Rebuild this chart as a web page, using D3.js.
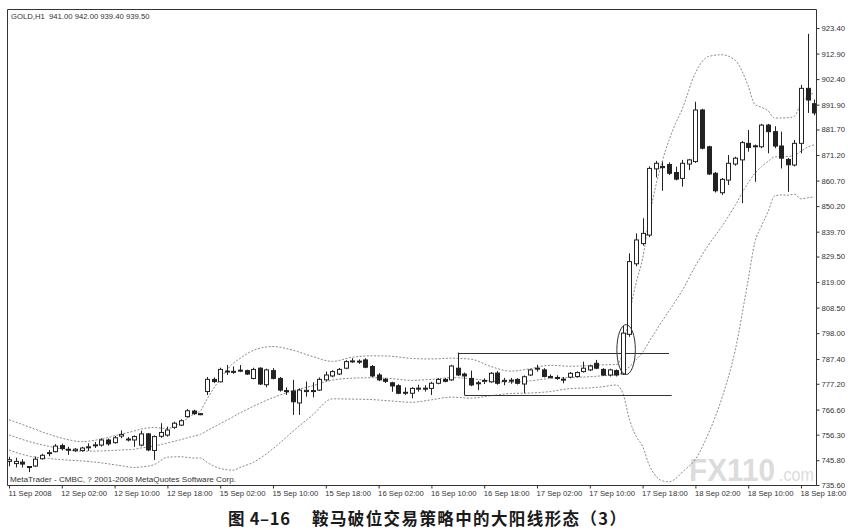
<!DOCTYPE html>
<html><head><meta charset="utf-8">
<script src="https://cdn.jsdelivr.net/npm/d3@7"></script>
<style>
html,body{margin:0;padding:0;background:#fff;}
svg{display:block;}
</style></head>
<body>
<svg id="c" width="866" height="530"></svg>
<script>
// ---- candle data (GOLD H1) ----
const opens  = [745.3,744.4,745.0,743.0,743.4,746.4,748.6,749.3,751.8,750.3,749.7,749.8,751.0,751.8,752.0,754.1,753.0,755.7,754.5,754.1,
752.0,756.6,749.8,755.6,756.1,759.3,760.2,763.7,766.0,764.9,774.0,779.0,778.0,782.0,782.3,782.4,782.6,779.4,783.6,776.8,
782.6,779.4,774.4,774.2,769.3,774.0,774.4,774.6,778.8,780.4,781.2,783.6,786.3,786.5,787.0,784.3,780.8,779.0,777.6,776.4,
773.5,773.3,775.1,775.4,775.3,777.4,779.0,778.8,783.6,781.2,779.4,777.6,778.3,778.0,781.6,778.3,778.7,779.0,777.1,780.8,
783.3,782.9,780.2,779.8,779.1,779.9,780.2,782.2,782.9,785.6,783.1,780.8,782.6,781.2,797.5,826.5,834.8,838.3,865.5,866.5,
867.3,864.0,861.6,867.5,868.5,889.7,874.6,863.7,855.7,860.9,867.5,869.2,876.0,874.6,874.6,883.5,880.8,874.9,869.4,867.1,
876.0,898.6,892.3];
const highs  = [747.2,746.8,746.2,743.4,747.3,748.4,750.0,752.4,752.6,751.3,750.8,751.3,752.7,753.3,754.8,754.7,755.8,758.0,755.3,756.0,
757.9,757.0,756.0,761.0,759.6,761.6,762.6,766.8,766.5,765.2,780.0,779.8,783.8,784.9,784.3,784.9,783.0,783.8,784.0,783.4,
783.6,780.0,775.7,778.8,775.3,778.1,777.8,779.8,782.2,782.8,783.7,786.9,787.7,787.2,787.7,784.9,781.6,779.6,778.0,777.0,
775.7,775.8,776.8,776.6,778.0,779.5,779.5,785.0,790.0,781.8,782.6,778.4,779.4,782.0,782.4,779.6,779.6,779.5,780.6,783.3,
785.0,783.6,781.0,780.7,780.0,782.0,782.3,786.3,785.0,787.0,783.6,783.4,783.1,801.0,830.8,839.0,845.2,866.5,868.8,868.5,
868.2,866.4,869.2,869.6,893.1,890.2,875.0,864.2,861.8,871.2,870.5,877.0,881.5,875.5,884.0,884.0,883.0,880.8,870.0,877.4,
900.0,921.0,894.0];
const lows   = [743.3,742.8,742.8,740.9,743.0,746.0,747.4,749.0,749.8,748.0,749.2,749.3,749.6,750.8,751.4,751.8,752.6,754.8,753.5,751.3,
751.5,749.5,745.9,755.0,755.5,758.7,759.8,763.3,764.4,764.3,772.6,777.5,777.8,780.8,781.3,782.0,780.8,779.0,776.7,775.8,
779.0,774.0,772.6,764.4,764.4,771.9,771.6,774.2,778.4,779.9,780.8,783.2,785.8,785.4,783.6,780.0,778.3,777.5,773.9,772.9,
772.6,771.2,774.0,774.0,772.6,777.0,777.8,778.4,780.4,772.6,776.2,774.6,777.1,777.6,776.8,776.6,777.2,776.9,773.3,780.4,
782.2,779.8,779.4,778.8,777.4,779.4,779.7,781.8,782.4,783.2,780.4,780.2,780.2,780.8,796.5,825.5,834.0,837.5,862.0,856.5,
863.0,860.8,858.2,865.0,868.0,873.5,863.0,855.8,854.8,858.9,866.8,851.4,872.6,860.2,874.0,871.9,874.0,865.7,856.1,866.5,
871.9,888.5,887.5];
const closes = [746.0,745.3,744.2,743.2,746.2,747.8,748.9,751.6,750.6,749.9,750.3,750.8,751.3,752.1,754.1,752.5,755.0,756.4,754.2,755.5,
756.6,750.0,755.5,757.2,758.2,761.0,762.0,766.1,764.9,764.7,779.0,778.1,783.1,782.4,782.0,782.8,781.2,783.1,777.1,782.9,
779.4,774.6,774.0,769.8,774.6,774.5,774.0,779.0,780.8,782.2,783.1,786.3,786.6,786.2,784.0,780.4,778.8,778.2,776.3,773.3,
773.7,775.3,775.4,775.2,777.4,779.0,778.2,784.5,780.8,780.4,776.7,777.3,778.6,781.5,777.4,778.6,778.5,777.4,780.1,782.9,
783.6,780.2,780.0,779.5,778.8,781.5,781.8,783.6,784.5,783.6,780.8,782.9,780.8,798.0,827.4,836.3,839.0,865.7,867.8,866.0,
863.7,861.3,867.8,869.2,889.7,874.0,863.4,856.5,861.2,867.8,869.9,876.3,874.3,875.0,883.5,880.8,874.9,869.9,867.2,876.0,
898.6,893.8,888.5];

// ---- Bollinger band lines, read at these bar positions ----
const bandBars   = [0,3,6,9,11,14,17,19,20,22,24,26,28,29,30,32,34,35,37,40,43,46,49,52,55,58,61,64,67,70,73,76,79,82,85,88,90,92,
93,94,95,96,97,98,99,100,101,102,104,106,108,110,112,113,114,115,116,117,118,119,120,121,122];
const upperBand  = [762.4,759.5,756.5,754.2,753.4,754.5,756.5,757.8,758.6,759.2,758.8,761.2,764.7,766.1,770.9,779.2,785.7,787.6,790.9,792.5,791.0,788.4,786.4,788.1,788.7,788.5,787.6,787.4,787.7,787.3,784.3,782.4,783.4,784.8,784.4,784.7,785.0,785.1,
790.0,805.8,818.5,828.7,845.4,858.5,868.9,877.3,884.2,890.1,905.0,911.7,912.4,910.2,899.6,892.0,890.8,889.4,886.4,886.4,886.5,887.1,892.4,895.2,896.8];
const middleBand = [756.2,753.5,751.5,750.0,749.5,749.6,750.0,750.3,750.8,751.6,752.9,754.2,755.7,756.4,757.9,760.8,763.7,765.2,767.9,771.5,774.3,776.4,778.7,779.5,779.7,779.3,778.6,779.0,779.7,779.3,778.3,777.8,778.4,779.4,779.8,780.1,780.5,780.9,
781.7,784.2,787.1,790.1,794.6,798.9,803.1,807.1,811.2,815.5,825.6,834.3,841.8,850.4,859.8,863.6,866.4,868.6,870.4,870.6,870.6,871.1,872.8,874.4,875.4];
const lowerBand  = [750.0,747.5,746.5,745.8,745.5,744.7,743.5,742.8,743.0,744.0,747.0,747.2,746.7,746.7,744.9,742.4,741.7,742.8,744.9,750.5,757.6,764.4,771.0,770.9,770.7,770.1,769.6,770.6,771.7,771.3,772.3,773.2,773.4,774.0,775.2,775.5,776.0,776.7,
773.4,762.6,755.7,751.5,743.8,739.3,737.3,736.9,738.2,740.9,746.2,756.9,771.2,790.6,820.0,835.2,842.0,847.8,854.4,854.8,854.7,855.1,853.2,853.6,854.0];

// ---- axes ----
const xTickBars   = [0,8,16,24,32,40,48,56,64,72,80,88,96,104,112,120];
const xTickLabels = ["11 Sep 2008","12 Sep 02:00","12 Sep 10:00","12 Sep 18:00","15 Sep 02:00","15 Sep 10:00","15 Sep 18:00","16 Sep 02:00",
"16 Sep 10:00","16 Sep 18:00","17 Sep 02:00","17 Sep 10:00","17 Sep 18:00","18 Sep 02:00","18 Sep 10:00","18 Sep 18:00"];
const yTickValues = [923.40,912.90,902.40,891.90,881.70,871.20,860.70,850.20,839.70,829.50,819.00,808.50,798.00,787.40,777.20,766.60,756.30,745.80,735.60];

// ---- annotations ----
const resistance = {price: 790.0, fromBar: 68, toBar: 100};
const support    = {price: 772.6, fromBar: 69, toBar: 100.4};
const breakoutCircle = {bar: 93.5, low: 781.0, high: 801.5, halfBars: 1.4};

const headerText = "GOLD,H1  941.00 942.00 939.40 939.50";
const footerText = "MetaTrader - CMBC, ? 2001-2008 MetaQuotes Software Corp.";
const titleNum = "图 4–16";
const titleText = "鞍马破位交易策略中的大阳线形态（3）";

// ---- drawing ----
const W = 866, H = 530;
const plot = {left: 7, top: 9, right: 816, bottom: 485};
const svg = d3.select("#c");
const x = d3.scaleLinear().domain([0, 120]).range([9, 801]);
const y = d3.scaleLinear().domain([735.6, 923.4]).range([485, 28]);
const FONT = "'Liberation Sans', Arial, sans-serif";
const INK = "#222";

svg.append("rect").attr("width", W).attr("height", H).attr("fill", "#fff");

svg.append("defs").append("clipPath").attr("id", "clip")
  .append("rect").attr("x", plot.left).attr("y", plot.top)
  .attr("width", plot.right - plot.left).attr("height", plot.bottom - plot.top);

// watermark (kept inside the plot, left of the price axis)
svg.append("text").attr("x", 689).attr("y", 481)
  .attr("font-family", FONT).attr("font-size", 31).attr("font-weight", "bold").attr("fill", "#dcdcdc")
  .attr("textLength", 86).attr("lengthAdjust", "spacingAndGlyphs").text("FX110");
svg.append("text").attr("x", 779).attr("y", 481)
  .attr("font-family", FONT).attr("font-size", 19).attr("fill", "#dcdcdc")
  .attr("textLength", 35).attr("lengthAdjust", "spacingAndGlyphs").text(".com");

const g = svg.append("g").attr("clip-path", "url(#clip)");

// bands
const bandLine = (vals) => d3.line()
  .x((d, i) => x(bandBars[i])).y((d) => y(d))
  .curve(d3.curveMonotoneX)(vals);
[upperBand, middleBand, lowerBand].forEach(vals => {
  g.append("path").attr("d", bandLine(vals))
    .attr("fill", "none").attr("stroke", "#8a8a8a")
    .attr("stroke-width", 1).attr("stroke-dasharray", "2,1.6");
});

// level lines
[resistance, support].forEach(l => {
  g.append("line")
    .attr("x1", x(l.fromBar)).attr("x2", x(l.toBar))
    .attr("y1", Math.round(y(l.price)) + 0.5).attr("y2", Math.round(y(l.price)) + 0.5)
    .attr("stroke", "#333").attr("stroke-width", 1.1);
});

// candles
const bodyW = 4;
const candles = g.append("g");
closes.forEach((c, i) => {
  const o = opens[i], hi = highs[i], lo = lows[i];
  const cx = Math.round(x(i)) + 0.5;
  candles.append("line").attr("x1", cx).attr("x2", cx)
    .attr("y1", y(hi)).attr("y2", y(lo)).attr("stroke", INK).attr("stroke-width", 1);
  const top = y(Math.max(o, c)), bot = y(Math.min(o, c));
  const bull = c >= o;
  candles.append("rect")
    .attr("x", cx - bodyW / 2).attr("y", top)
    .attr("width", bodyW).attr("height", Math.max(1, bot - top))
    .attr("fill", bull ? "#fff" : INK).attr("stroke", INK).attr("stroke-width", 1);
});

// breakout ellipse
g.append("ellipse")
  .attr("cx", x(breakoutCircle.bar))
  .attr("cy", (y(breakoutCircle.low) + y(breakoutCircle.high)) / 2)
  .attr("rx", x(breakoutCircle.halfBars) - x(0))
  .attr("ry", (y(breakoutCircle.low) - y(breakoutCircle.high)) / 2)
  .attr("fill", "none").attr("stroke", "#333").attr("stroke-width", 1);

// frame
svg.append("path")
  .attr("d", `M${plot.left + 0.5},${plot.bottom + 0.5}V${plot.top + 0.5}H${plot.right + 0.5}V${plot.bottom + 0.5}H${plot.left + 0.5}`)
  .attr("fill", "none").attr("stroke", "#333").attr("stroke-width", 1);

// right price axis
const yAxis = svg.append("g").attr("transform", `translate(${plot.right + 0.5},0)`)
  .call(d3.axisRight(y).tickValues(yTickValues).tickSize(3).tickPadding(2).tickFormat(d3.format(".2f")));
yAxis.select(".domain").remove();
yAxis.selectAll("line").attr("stroke", "#333");
yAxis.selectAll("text").attr("font-family", FONT).attr("font-size", 7.7).attr("fill", "#333");

// bottom time axis
const xAxis = svg.append("g").attr("transform", `translate(0,${plot.bottom + 0.5})`)
  .call(d3.axisBottom(x).tickValues(xTickBars).tickSize(3).tickFormat((d, i) => xTickLabels[i]));
xAxis.select(".domain").remove();
xAxis.selectAll("line").attr("stroke", "#333");
xAxis.selectAll("text").attr("font-family", FONT).attr("font-size", 7.7).attr("fill", "#333")
  .attr("text-anchor", "start").attr("x", -1).attr("y", 5).attr("dy", "0.71em");

// header / footer
svg.append("text").attr("x", 11).attr("y", 19).attr("font-family", FONT).attr("font-size", 7.7)
  .attr("fill", "#333").attr("xml:space", "preserve").style("white-space", "pre").text(headerText);
svg.append("text").attr("x", 10).attr("y", 481.5).attr("font-family", FONT).attr("font-size", 7.8)
  .attr("fill", "#333").attr("textLength", 226).attr("lengthAdjust", "spacingAndGlyphs").text(footerText);

// figure caption
const CJK = "'Noto Sans CJK SC', 'Noto Sans', sans-serif";
svg.append("text").attr("x", 228).attr("y", 525).attr("font-family", CJK).attr("font-size", 16.5)
  .attr("font-weight", "bold").attr("fill", "#1a1a1a")
  .attr("textLength", 62).attr("lengthAdjust", "spacing").text(titleNum);
svg.append("text").attr("x", 312).attr("y", 525).attr("font-family", CJK).attr("font-size", 16.5)
  .attr("font-weight", "bold").attr("fill", "#1a1a1a")
  .attr("textLength", 314).attr("lengthAdjust", "spacing").text(titleText);
</script>
</body></html>
